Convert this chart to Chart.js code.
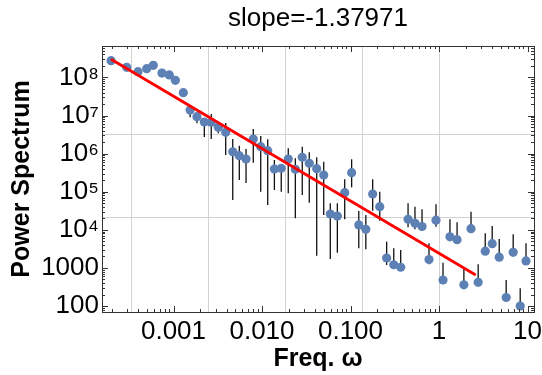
<!DOCTYPE html>
<html>
<head>
<meta charset="utf-8">
<script src="https://cdn.jsdelivr.net/npm/chart.js@4.4.1/dist/chart.umd.min.js"></script>
<style>
  html, body { margin: 0; padding: 0; background: #fff; }
</style>
</head>
<body>
<canvas id="myChart" width="542" height="375"></canvas>
<script>
/* ================================
   Power spectrum, log-log with fit
   ================================ */
var freq = [1.97e-4, 2.96e-4, 3.97e-4, 4.98e-4, 5.91e-4, 7.41e-4, 8.97e-4, 1.05e-3, 1.29e-3, 1.54e-3,
  1.84e-3, 2.23e-3, 2.67e-3, 3.21e-3, 3.89e-3, 4.67e-3, 5.54e-3, 6.60e-3, 7.97e-3, 9.67e-3,
  0.0116, 0.0138, 0.0165, 0.0198, 0.0238, 0.0285, 0.0342, 0.0415, 0.0498, 0.0591,
  0.0710, 0.0860, 0.103, 0.124, 0.149, 0.178, 0.214, 0.256, 0.308, 0.369,
  0.447, 0.535, 0.643, 0.771, 0.925, 1.11, 1.33, 1.60, 1.91, 2.30,
  2.77, 3.33, 3.99, 4.79, 5.74, 6.89, 8.27, 9.62];
var power = [2.74e8, 1.84e8, 1.41e8, 1.69e8, 2.08e8, 1.30e8, 1.16e8, 8.39e7, 3.97e7, 1.39e7,
  9.31e6, 6.75e6, 6.63e6, 4.90e6, 3.62e6, 1.12e6, 8.81e5, 7.21e5, 2.42e6, 1.52e6,
  1.19e6, 3.94e5, 4.11e5, 7.21e5, 3.87e5, 8.0e5, 5.56e5, 4.02e5, 2.74e5, 2.60e4,
  2.30e4, 9.42e4, 3.16e5, 1.34e4, 1.03e4, 8.71e4, 4.04e4, 1820, 1210, 1040,
  1.89e4, 1.48e4, 1.22e4, 1660, 1.79e4, 481, 6550, 5500, 360, 1.07e4,
  419, 2740, 4320, 1910, 167, 2560, 100, 1520];
// error bar ends (top / bottom)
var errHigh = [2.74e8, 1.84e8, 1.41e8, 1.69e8, 2.08e8, 1.30e8, 1.16e8, 8.39e7, 3.97e7, 1.70e7,
  1.16e7, 8.09e6, 1.09e7, 6.24e6, 6.36e6, 2.42e6, 1.61e6, 1.32e6, 4.43e6, 2.90e6,
  2.37e6, 6.79e5, 5.02e5, 1.38e6, 7.53e5, 1.52e6, 1.08e6, 8.0e5, 6.12e5, 4.97e4,
  4.97e4, 2.11e5, 7.08e5, 3.11e4, 2.44e4, 2.11e5, 1.0e5, 4880, 3270, 2950,
  4.97e4, 4.04e4, 3.45e4, 4430, 4.67e4, 1370, 1.89e4, 1.57e4, 977, 2.99e4,
  1240, 8090, 1.26e4, 5740, 481, 7620, 292, 4430];
var errLow = [2.74e8, 1.84e8, 1.41e8, 1.69e8, 2.08e8, 1.30e8, 1.16e8, 8.39e7, 3.97e7, 8.97e6,
  6.24e6, 2.73e6, 2.42e6, 3.41e6, 9.18e5, 6.05e4, 2.03e5, 1.69e5, 5.77e5, 1.0e5,
  4.48e4, 1.11e5, 1.0e5, 9.08e4, 2.0e4, 8.18e4, 5.14e4, 2090, 2.44e4, 1710,
  2510, 1.89e4, 1.30e5, 3270, 3080, 3.17e4, 1.73e4, 1190, 1070, 881,
  1.16e4, 1.03e4, 9310, 1240, 1.21e4, 394, 5400, 4880, 292, 9890,
  356, 2560, 3830, 1710, 144, 2280, 78.5, 1320];

// fitted line end points
var fitX = [1.97e-4, 2.6];
var fitY = [3.0e8, 650];

var xTickValues = [0.001, 0.01, 0.1, 1, 10];
var xTickLabels = ['0.001', '0.010', '0.100', '1', '10'];
var yTickValues = [100, 1000, 1e4, 1e5, 1e6, 1e7, 1e8];
var yTickLabels = ['100', '1000', '10\u2074', '10\u2075', '10\u2076', '10\u2077', '10\u2078'];
var gridX = [0.000335, 0.00248, 0.0183, 0.135, 1];
var gridY = [22026, 3.27e6];

var xMin = 1.556e-4, xMax = 11.84;
var yMin = 69.6, yMax = 6.67e8;
var FONT = "'Liberation Sans', Arial, sans-serif";

// grid, error bars, frame and inward ticks
const decor = {
  id: 'decor',
  beforeDatasetsDraw(chart) {
    const { ctx, chartArea: a } = chart;
    const x = chart.scales.x, y = chart.scales.y;
    ctx.save();
    ctx.strokeStyle = '#d2d2d2';
    ctx.lineWidth = 1;
    gridX.forEach(v => {
      const px = Math.round(x.getPixelForValue(v)) + 0.5;
      ctx.beginPath(); ctx.moveTo(px, a.top); ctx.lineTo(px, a.bottom); ctx.stroke();
    });
    gridY.forEach(v => {
      const py = Math.round(y.getPixelForValue(v)) + 0.5;
      ctx.beginPath(); ctx.moveTo(a.left, py); ctx.lineTo(a.right, py); ctx.stroke();
    });
    ctx.beginPath();
    ctx.rect(a.left, a.top, a.right - a.left, a.bottom - a.top);
    ctx.clip();
    ctx.strokeStyle = '#111';
    ctx.lineWidth = 1.3;
    freq.forEach((f, i) => {
      if (errHigh[i] === errLow[i]) return;
      const px = x.getPixelForValue(f);
      ctx.beginPath();
      ctx.moveTo(px, y.getPixelForValue(errHigh[i]));
      ctx.lineTo(px, y.getPixelForValue(errLow[i]));
      ctx.stroke();
    });
    ctx.restore();
  },
  afterDatasetsDraw(chart) {
    const { ctx, chartArea: a } = chart;
    const x = chart.scales.x, y = chart.scales.y;
    ctx.save();
    ctx.strokeStyle = '#333';
    ctx.lineWidth = 1;
    for (let n = -4; n <= 1; n++) {
      for (let k = 1; k <= 9; k++) {
        const v = k * Math.pow(10, n);
        if (v < xMin || v > xMax) continue;
        const len = k === 1 ? 6 : 3;
        const px = Math.round(x.getPixelForValue(v)) + 0.5;
        ctx.beginPath();
        ctx.moveTo(px, a.bottom); ctx.lineTo(px, a.bottom - len);
        ctx.moveTo(px, a.top); ctx.lineTo(px, a.top + len);
        ctx.stroke();
      }
    }
    for (let n = 1; n <= 8; n++) {
      for (let k = 1; k <= 9; k++) {
        const v = k * Math.pow(10, n);
        if (v < yMin || v > yMax) continue;
        const len = k === 1 ? 6 : 3;
        const py = Math.round(y.getPixelForValue(v)) + 0.5;
        ctx.beginPath();
        ctx.moveTo(a.left, py); ctx.lineTo(a.left + len, py);
        ctx.moveTo(a.right, py); ctx.lineTo(a.right - len, py);
        ctx.stroke();
      }
    }
    ctx.strokeRect(Math.round(a.left) + 0.5, Math.round(a.top) + 0.5,
      Math.round(a.right - a.left), Math.round(a.bottom - a.top));
    ctx.restore();
  }
};

const ctx = document.getElementById('myChart');
const myChart = new Chart(ctx, {
  type: 'scatter',
  data: {
    datasets: [{
      type: 'line',
      order: 0,
      data: fitX.map((v, i) => ({ x: v, y: fitY[i] })),
      borderColor: '#ff0000',
      borderWidth: 2.8,
      pointRadius: 0,
      fill: false
    }, {
      order: 1,
      data: freq.map((v, i) => ({ x: v, y: power[i] })),
      backgroundColor: '#5e81b5',
      borderWidth: 0,
      pointRadius: 4.6,
      pointHoverRadius: 4.6
    }]
  },
  options: {
    responsive: false,
    animation: false,
    layout: { padding: { right: 8 } },
    plugins: { legend: { display: false }, tooltip: { enabled: false } },
    scales: {
      x: {
        type: 'logarithmic', position: 'bottom', min: xMin, max: xMax,
        afterBuildTicks: s => { s.ticks = xTickValues.map(v => ({ value: v })); },
        afterFit: s => { s.height = 63; s.paddingLeft = 0; s.paddingRight = 0; },
        grid: { display: false, drawTicks: false },
        border: { display: false },
        ticks: {
          color: '#000', padding: 4, maxRotation: 0, autoSkip: false,
          font: { family: FONT, size: 26 },
          callback: (v, i) => xTickLabels[i]
        },
        title: {
          display: true, text: 'Freq. \u03c9', color: '#000',
          font: { family: FONT, size: 25, weight: 'bold' },
          padding: { top: 0, bottom: 1 }
        }
      },
      x2: {
        type: 'logarithmic', position: 'top', min: xMin, max: xMax,
        afterFit: s => { s.height = 46; s.paddingLeft = 0; s.paddingRight = 0; },
        grid: { display: false, drawTicks: false },
        border: { display: false },
        ticks: { display: false },
        title: {
          display: true, text: 'slope=-1.37971', color: '#000',
          font: { family: FONT, size: 26 },
          padding: { top: 3, bottom: 0 }
        }
      },
      y: {
        type: 'logarithmic', position: 'left', min: yMin, max: yMax,
        afterBuildTicks: s => { s.ticks = yTickValues.map(v => ({ value: v })); },
        afterFit: s => { s.width = 102; s.paddingTop = 0; s.paddingBottom = 0; },
        grid: { display: false, drawTicks: false },
        border: { display: false },
        ticks: {
          color: '#000', padding: 3, autoSkip: false,
          font: { family: FONT, size: 26 },
          callback: (v, i) => yTickLabels[i]
        },
        title: {
          display: true, text: 'Power Spectrum', color: '#000',
          font: { family: FONT, size: 25, weight: 'bold' },
          padding: { top: 7, bottom: 0 }
        }
      }
    }
  },
  plugins: [decor]
});
</script>
</body>
</html>
